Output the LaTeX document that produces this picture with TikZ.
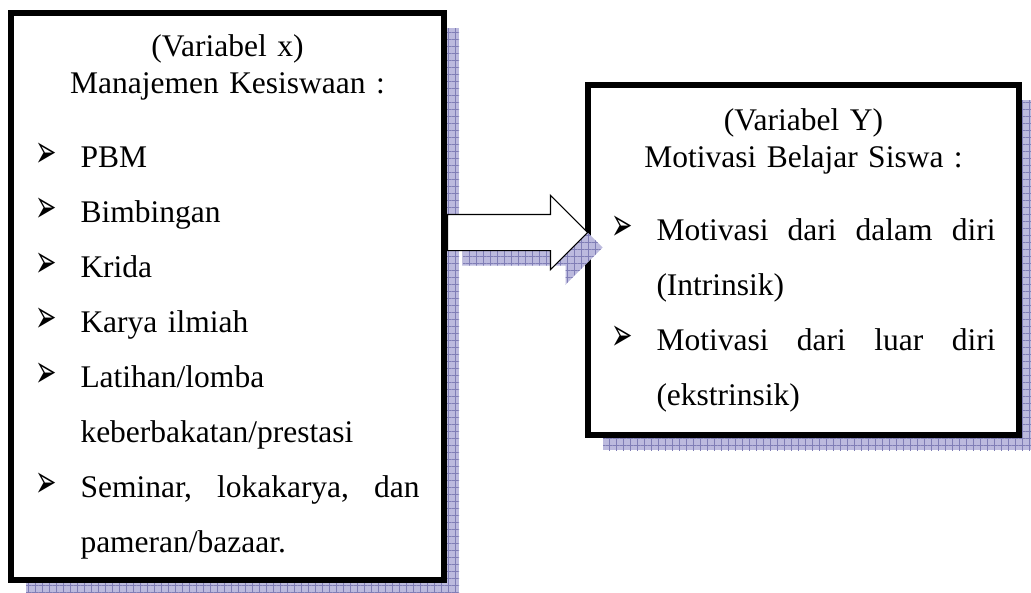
\documentclass[tikz,border=0pt]{standalone}
\usepackage{graphicx}
\usepackage{fontspec}
\setmainfont{Liberation Serif}
\newfontfamily\dingfont{DejaVu Sans}
\usetikzlibrary{shapes.arrows,shadows,patterns.meta}

\definecolor{shadefill}{RGB}{188,186,222}
\definecolor{shadegrid}{RGB}{128,126,182}

% box text, bullet, hanging indent, centred line, spread line
\newcommand{\boxfont}{\fontsize{31.5}{55}\selectfont\setlength{\parindent}{0pt}}
\newcommand{\bul}{\makebox[45pt][l]{\scalebox{0.64}[1.15]{\dingfont\fontsize{40}{40}\selectfont ➢}}}
\newcommand{\ind}{\hspace*{45pt}}
\newcommand{\ctr}[1]{\noindent\hbox to \linewidth{\hfil #1\hfil}}
\newcommand{\fulline}[1]{\noindent\hbox to \linewidth{#1}}

\begin{document}
\begin{tikzpicture}[
    x=1pt, y=1pt,
    gridshadow/.style={
        drop shadow={shadow xshift=15pt, shadow yshift=-15pt,
            opacity=1, fill=shadefill,
            postaction={pattern={Hatch[angle=0,distance=7pt,line width=0.6pt]},
                pattern color=shadegrid}}
    },
    varbox/.style={
        gridshadow,
        draw=black,
        line width=6pt,
        fill=white,
        anchor=north west,
        text width=384pt,
        align=left,
        inner ysep=0pt,
        font=\boxfont
    },
    bigarrow/.style={
        gridshadow,
        single arrow,
        draw=black,
        line width=1.2pt,
        fill=white,
        anchor=tail,
        inner xsep=0pt,
        inner ysep=17.5pt,
        minimum height=140pt,
        single arrow head extend=19pt,
        single arrow head indent=0pt
    }
]
    \useasboundingbox (0,0) rectangle (1031,-592);

    \node[varbox, minimum width=433pt, minimum height=567pt, inner xsep=24.5pt]
        (varx) at (8,-10) {%
        \ctr{(Variabel x)}\\[-18pt]
        \ctr{Manajemen Kesiswaan :}\\[19pt]
        \bul PBM\\
        \bul Bimbingan\\
        \bul Krida\\
        \bul Karya ilmiah\\
        \bul Latihan/lomba\\
        \ind keberbakatan/prestasi\\
        \fulline{\bul Seminar,\hfill lokakarya,\hfill dan}\\
        \ind pameran/bazaar.};

    \node[varbox, minimum width=431pt, minimum height=350pt, inner xsep=23.5pt]
        (vary) at (585,-82) {%
        \ctr{(Variabel Y)}\\[-18pt]
        \ctr{Motivasi Belajar Siswa :}\\[18pt]
        \fulline{\bul Motivasi\hfill dari\hfill dalam\hfill diri}\\
        \ind (Intrinsik)\\
        \fulline{\bul Motivasi\hfill dari\hfill luar\hfill diri}\\
        \ind (ekstrinsik)};

    % arrow from x to Y
    \node[bigarrow] (arr) at ([yshift=64pt]varx.east) {};
\end{tikzpicture}
\end{document}
